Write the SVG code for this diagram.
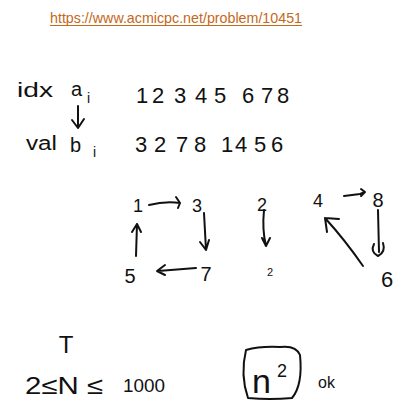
<svg xmlns="http://www.w3.org/2000/svg" width="406" height="414" viewBox="0 0 406 414">
<style>
.hw{font-family:"Liberation Sans","DejaVu Sans",sans-serif;fill:#111}
.ln{fill:none;stroke:#111;stroke-width:2;stroke-linecap:round;stroke-linejoin:round}
.url{font-family:"Liberation Sans",Arial,sans-serif;font-size:15px;fill:#c4681a}
</style>
<rect width="406" height="414" fill="#fff"/>
<g id="url">
<text class="url" x="50" y="23" textLength="252" lengthAdjust="spacingAndGlyphs">https://www.acmicpc.net/problem/10451</text>
<line x1="50" y1="25.5" x2="302" y2="25.5" stroke="#c4681a" stroke-width="1"/>
</g>
<g id="row-idx">
<text class="hw" x="17" y="97" font-size="20" textLength="36" lengthAdjust="spacingAndGlyphs">idx</text>
<text class="hw" x="71" y="96" font-size="20">a</text>
<text class="hw" x="87" y="103" font-size="14">i</text>
<text class="hw" y="103" font-size="22" text-anchor="middle" x="142 158 180 201 220 248 267 283">12345678</text>
</g>
<g id="row-val">
<text class="hw" x="26" y="150" font-size="20" textLength="31" lengthAdjust="spacingAndGlyphs">val</text>
<text class="hw" x="70" y="152" font-size="20">b</text>
<text class="hw" x="93" y="157" font-size="14">i</text>
<text class="hw" y="152" font-size="22" text-anchor="middle" x="141 160 182 200 227 241 260 277">32781456</text>
</g>
<g id="nodes">
<g id="n1"><text class="hw" x="138" y="212" font-size="18" text-anchor="middle">1</text></g>
<g id="n3"><text class="hw" x="197" y="212" font-size="18" text-anchor="middle">3</text></g>
<g id="n7"><text class="hw" x="206" y="281" font-size="20" text-anchor="middle">7</text></g>
<g id="n5"><text class="hw" x="130" y="283" font-size="20" text-anchor="middle">5</text></g>
<g id="n2"><text class="hw" x="262" y="211" font-size="18" text-anchor="middle">2</text></g>
<g id="n2b"><text class="hw" x="270" y="276" font-size="11" text-anchor="middle">2</text></g>
<g id="n4"><text class="hw" x="318" y="207" font-size="18" text-anchor="middle">4</text></g>
<g id="n8"><text class="hw" x="378" y="207" font-size="20" text-anchor="middle">8</text></g>
<g id="n6"><text class="hw" x="387" y="287" font-size="22" text-anchor="middle">6</text></g>
</g>
<g id="connectors">
<path class="ln" d="M78 106 L78 128 M72 120 L78 128 L84 119"/>
<path class="ln" d="M149 205 Q165 201 180 203 M176 197 L180 203 L178 208"/>
<path class="ln" d="M204 213 L206 250 M200 242 L206 250 L209 240"/>
<path class="ln" d="M196 268 L158 271 M165 265 L157 271 L165 275"/>
<path class="ln" d="M136 256 L137 224 M132 232 L137 224 L141 232"/>
<path class="ln" d="M264 210 Q262 230 266 246 M262 238 L266 246 L270 238"/>
<path class="ln" d="M344 196 L360 194 L365 192 M361 189 L365 192 L361 196"/>
<path class="ln" d="M378 210 L379 252 M374 244 Q370 252 378 256 Q386 252 383 243"/>
<path class="ln" d="M363 266 Q345 240 325 218 M325 218 L327 232 M325 218 L339 219"/>
</g>
<g id="bottom">
<text class="hw" x="66" y="353" font-size="24" text-anchor="middle">T</text>
<text class="hw" x="25" y="394" font-size="24" textLength="78" lengthAdjust="spacingAndGlyphs">2≤N ≤</text>
<text class="hw" x="123" y="392" font-size="18" textLength="42" lengthAdjust="spacingAndGlyphs">1000</text>
<path class="ln" d="M246 350 Q240 375 248 398 Q270 400 292 398 Q303 385 300 355 Q296 345 280 347 Q260 346 246 350"/>
<text class="hw" x="252" y="393" font-size="34">n</text>
<text class="hw" x="277" y="377" font-size="18">2</text>
<text class="hw" x="318" y="388" font-size="16">ok</text>
</g>
</svg>
